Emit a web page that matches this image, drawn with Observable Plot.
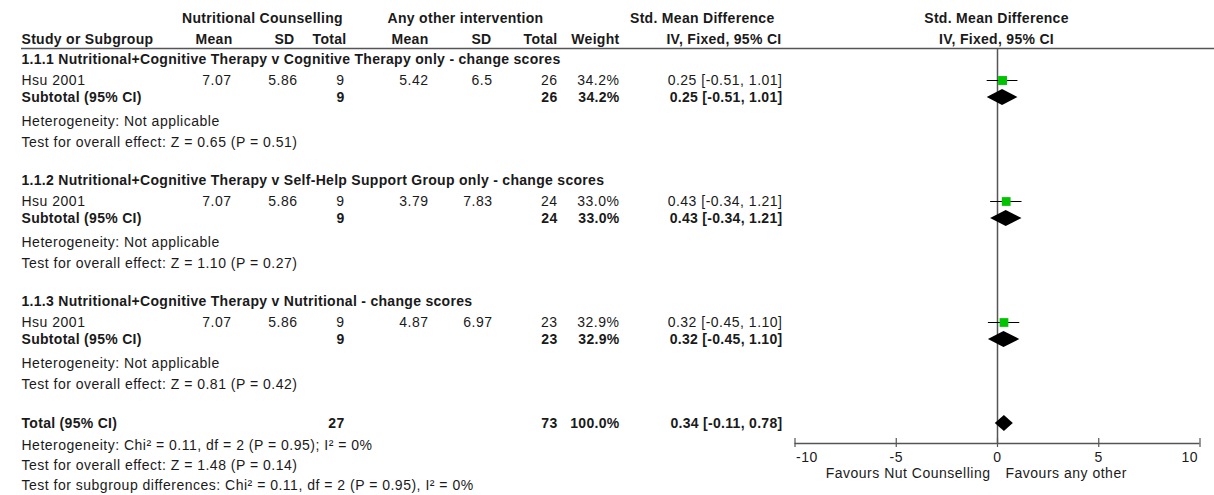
<!DOCTYPE html>
<html>
<head>
<meta charset="utf-8">
<script src="https://cdn.jsdelivr.net/npm/d3@7"></script>
<script src="https://cdn.jsdelivr.net/npm/@observablehq/plot@0.6"></script>
<style>
  html, body { margin: 0; padding: 0; background: #fff; }
  svg { display: block; }
  #chart svg text { letter-spacing: 0.5px; }
  #chart svg g[font-weight="bold"] text { letter-spacing: 0.3px; }
</style>
</head>
<body>
<div id="chart"></div>
<script>
// ---------- data ----------
const subgroupTitles = [
  "1.1.1 Nutritional+Cognitive Therapy v Cognitive Therapy only - change scores",
  "1.1.2 Nutritional+Cognitive Therapy v Self-Help Support Group only - change scores",
  "1.1.3 Nutritional+Cognitive Therapy v Nutritional - change scores"
];
const studyNames = ["Hsu 2001", "Hsu 2001", "Hsu 2001"];
const ncMean = [7.07, 7.07, 7.07];
const ncSD = [5.86, 5.86, 5.86];
const ncTotal = [9, 9, 9];
const aoMean = [5.42, 3.79, 4.87];
const aoSD = [6.5, 7.83, 6.97];
const aoTotal = [26, 24, 23];
const weights = [34.2, 33.0, 32.9];
const smd = [0.25, 0.43, 0.32];
const ciLow = [-0.51, -0.34, -0.45];
const ciHigh = [1.01, 1.21, 1.10];
const subgroupZ = ["Z = 0.65 (P = 0.51)", "Z = 1.10 (P = 0.27)", "Z = 0.81 (P = 0.42)"];

const totalNC = 27, totalAO = 73, totalWeight = 100.0;
const totalSMD = 0.34, totalLow = -0.11, totalHigh = 0.78;
const totalHet = "Heterogeneity: Chi\u00B2 = 0.11, df = 2 (P = 0.95); I\u00B2 = 0%";
const totalZ = "Test for overall effect: Z = 1.48 (P = 0.14)";
const subgroupDiff = "Test for subgroup differences: Chi\u00B2 = 0.11, df = 2 (P = 0.95), I\u00B2 = 0%";

const xTicks = [-10, -5, 0, 5, 10];
const favours = ["Favours Nut Counselling", "Favours any other"];

// ---------- layout (code, not data) ----------
const W = 1214, H = 495;
const groupTop = [59, 180, 301];
const rowOff = {study: 21, sub: 38, het: 62, test: 83};
const yTotal = 423, yTotalHet = 445, yTotalZ = 465, ySubDiff = 485;
const yHead1 = 18, yHead2 = 39, yRule = 48, yAxis = 443, yTickLab = 457, yFav = 473;
const leftX = 21;

const fmtCI = (e, l, h) => `${e.toFixed(2)} [${l.toFixed(2)}, ${h.toFixed(2)}]`;

const labelRows = [];
const studyRows = [];
const subRows = [];
subgroupTitles.forEach((t, i) => {
  const g = groupTop[i];
  labelRows.push({t, y: g, bold: true});
  labelRows.push({t: studyNames[i], y: g + rowOff.study, bold: false});
  labelRows.push({t: "Subtotal (95% CI)", y: g + rowOff.sub, bold: true});
  labelRows.push({t: "Heterogeneity: Not applicable", y: g + rowOff.het, bold: false});
  labelRows.push({t: "Test for overall effect: " + subgroupZ[i], y: g + rowOff.test, bold: false});
  studyRows.push({y: g + rowOff.study, ncMean: ncMean[i], ncSD: ncSD[i], ncTotal: ncTotal[i],
    aoMean: aoMean[i], aoSD: aoSD[i], aoTotal: aoTotal[i], w: weights[i],
    est: smd[i], lo: ciLow[i], hi: ciHigh[i]});
  subRows.push({y: g + rowOff.sub, ncTotal: ncTotal[i], aoTotal: aoTotal[i], w: weights[i],
    est: smd[i], lo: ciLow[i], hi: ciHigh[i], id: "s" + i});
});
labelRows.push({t: "Total (95% CI)", y: yTotal, bold: true});
labelRows.push({t: totalHet, y: yTotalHet, bold: false});
labelRows.push({t: totalZ, y: yTotalZ, bold: false});
labelRows.push({t: subgroupDiff, y: ySubDiff, bold: false});
const totalRows = [{y: yTotal, ncTotal: totalNC, aoTotal: totalAO, w: totalWeight,
  est: totalSMD, lo: totalLow, hi: totalHigh, id: "t"}];
const boldRows = subRows.concat(totalRows);

// diamond polygons
const dH = 8;
const diamondPts = boldRows.flatMap(d => [
  {id: d.id, x: d.lo, y1: d.y, y2: d.y},
  {id: d.id, x: d.est, y1: d.y - dH, y2: d.y + dH},
  {id: d.id, x: d.hi, y1: d.y, y2: d.y}
]);

const ink = "#1a1a1a";
const col = (data, value, right, bold) =>
  Plot.text(data, {y: "y", text: value, frameAnchor: "left", dx: right, textAnchor: "end",
    fill: ink, fontWeight: bold ? "bold" : "normal"});

const headers = [
  {t: "Study or Subgroup", y: yHead2, x: leftX, a: "start"},
  {t: "Nutritional Counselling", y: yHead1, x: 262, a: "middle"},
  {t: "Mean", y: yHead2, x: 232, a: "end"},
  {t: "SD", y: yHead2, x: 294, a: "end"},
  {t: "Total", y: yHead2, x: 346, a: "end"},
  {t: "Any other intervention", y: yHead1, x: 465, a: "middle"},
  {t: "Mean", y: yHead2, x: 428, a: "end"},
  {t: "SD", y: yHead2, x: 491, a: "end"},
  {t: "Total", y: yHead2, x: 557, a: "end"},
  {t: "Weight", y: yHead2, x: 619, a: "end"},
  {t: "Std. Mean Difference", y: yHead1, x: 774, a: "end"},
  {t: "IV, Fixed, 95% CI", y: yHead2, x: 781, a: "end"}
];
const headerMarks = headers.map(h =>
  Plot.text([h], {y: "y", text: "t", frameAnchor: "left", dx: h.x, textAnchor: h.a, fill: ink, fontWeight: "bold"})
);

const chart = Plot.plot({
  width: W,
  height: H,
  margin: 0,
  x: {domain: [-10, 10], range: [794.5, 1199.5], axis: null},
  y: {type: "identity", axis: null},
  r: {type: "sqrt", domain: [0, 100], range: [0, 8.6]},
  style: {fontFamily: "'Liberation Sans', Arial, sans-serif", fontSize: "14px", background: "#fff", overflow: "visible"},
  marks: [
    // header rule & plot frame lines
    Plot.ruleY([yRule], {insetLeft: leftX, stroke: "#555", strokeWidth: 1.5}),
    Plot.ruleX([0], {y1: yRule, y2: yAxis, stroke: "#555", strokeWidth: 1.5}),
    Plot.ruleY([yAxis], {x1: xTicks[0], x2: xTicks[xTicks.length - 1], stroke: "#555", strokeWidth: 1.5}),
    Plot.ruleX(xTicks, {y1: yAxis - 5, y2: yAxis + 4, stroke: "#555", strokeWidth: 1.2}),
    // tick labels
    Plot.text(xTicks.filter((d, i) => i === 0), {x: d => d, y: yTickLab, text: d => String(d), textAnchor: "start", dx: 1, fill: ink}),
    Plot.text(xTicks.filter((d, i) => i > 0 && i < xTicks.length - 1), {x: d => d, y: yTickLab, text: d => String(d), fill: ink}),
    Plot.text(xTicks.filter((d, i) => i === xTicks.length - 1), {x: d => d, y: yTickLab, text: d => String(d), textAnchor: "end", dx: -2, fill: ink}),
    Plot.text([favours[0]], {x: 0, y: yFav, text: d => d, textAnchor: "end", dx: -7, fill: ink}),
    Plot.text([favours[1]], {x: 0, y: yFav, text: d => d, textAnchor: "start", dx: 8, fill: ink}),
    // plot headers
    Plot.text(["Std. Mean Difference"], {x: 0, y: yHead1, text: d => d, fontWeight: "bold", fill: ink, dx: -1}),
    Plot.text(["IV, Fixed, 95% CI"], {x: 0, y: yHead2, text: d => d, fontWeight: "bold", fill: ink, dx: -1}),
    // table headers
    ...headerMarks,
    // label column
    Plot.text(labelRows.filter(d => d.bold), {y: "y", text: "t", frameAnchor: "left", dx: leftX, textAnchor: "start", fill: ink, fontWeight: "bold"}),
    Plot.text(labelRows.filter(d => !d.bold), {y: "y", text: "t", frameAnchor: "left", dx: leftX, textAnchor: "start", fill: ink}),
    // study rows
    col(studyRows, d => d.ncMean.toFixed(2), 231, false),
    col(studyRows, d => d.ncSD.toFixed(2), 297, false),
    col(studyRows, d => String(d.ncTotal), 344, false),
    col(studyRows, d => d.aoMean.toFixed(2), 428, false),
    col(studyRows, d => String(d.aoSD), 492, false),
    col(studyRows, d => String(d.aoTotal), 557, false),
    col(studyRows, d => d.w.toFixed(1) + "%", 619, false),
    col(studyRows, d => fmtCI(d.est, d.lo, d.hi), 782, false),
    // subtotal + total rows
    col(boldRows, d => String(d.ncTotal), 344, true),
    col(boldRows, d => String(d.aoTotal), 557, true),
    col(boldRows, d => d.w.toFixed(1) + "%", 619, true),
    col(boldRows, d => fmtCI(d.est, d.lo, d.hi), 782, true),
    // forest marks
    Plot.ruleY(studyRows, {y: "y", x1: "lo", x2: "hi", stroke: "#000", strokeWidth: 1}),
    Plot.dot(studyRows, {x: "est", y: "y", r: "w", symbol: "square", fill: "#00c400", stroke: null}),
    Plot.areaY(diamondPts, {x: "x", y1: "y1", y2: "y2", z: "id", fill: "#000", curve: "linear"})
  ]
});
document.getElementById("chart").appendChild(chart);
</script>
</body>
</html>
